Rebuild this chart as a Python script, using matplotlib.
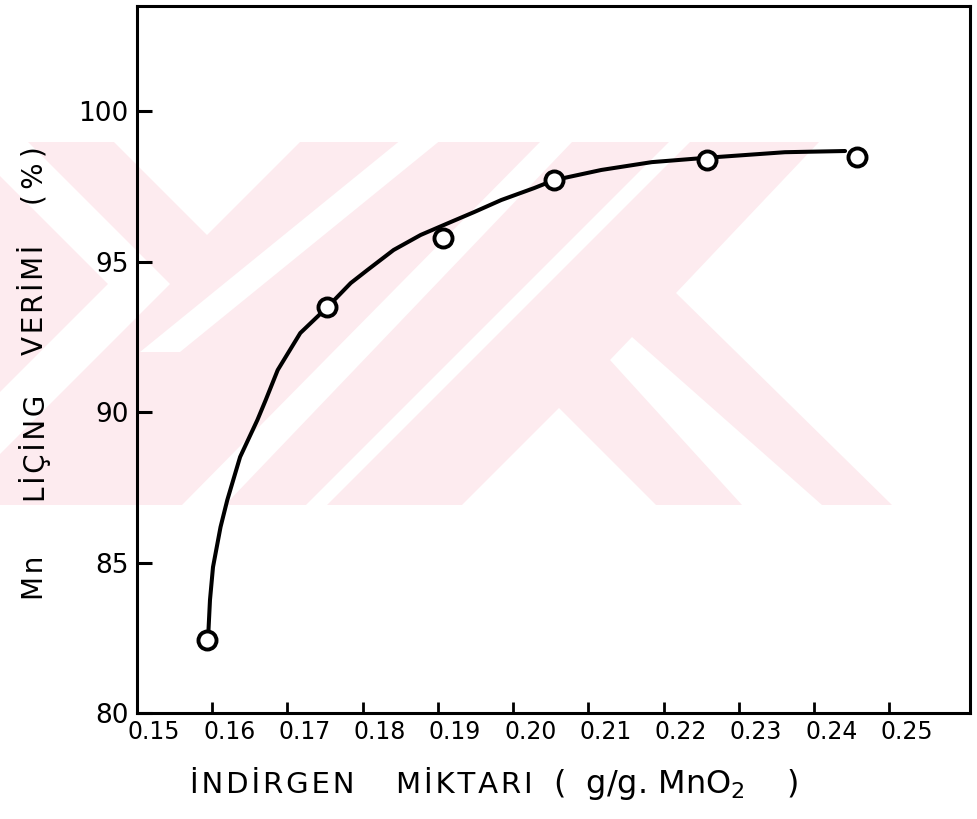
import matplotlib
matplotlib.use('Agg')
import matplotlib.pyplot as plt
from matplotlib.patches import Polygon, Rectangle
from matplotlib.transforms import ScaledTranslation

# ---- data ----
point_x = [0.1593, 0.1753, 0.1906, 0.2054, 0.2257, 0.2457]
point_y = [82.43, 93.49, 95.79, 97.71, 98.38, 98.48]

curve_x = [0.1593, 0.1595, 0.1597, 0.1601, 0.1611, 0.1620, 0.1637, 0.1660,
           0.1671, 0.1687, 0.1717, 0.1753, 0.1784, 0.1806, 0.1841, 0.1877,
           0.1917, 0.1948, 0.1984, 0.2028, 0.2054, 0.2117, 0.2184, 0.2254,
           0.2361, 0.2441]
curve_y = [82.43, 82.76, 83.76, 84.85, 86.18, 87.08, 88.51, 89.74,
           90.40, 91.40, 92.63, 93.49, 94.29, 94.72, 95.39, 95.89,
           96.32, 96.65, 97.05, 97.45, 97.71, 98.05, 98.31, 98.45,
           98.64, 98.68]

x_ticks = [0.15, 0.16, 0.17, 0.18, 0.19, 0.20, 0.21, 0.22, 0.23, 0.24, 0.25]
x_tick_labels = ['0.15', '0.16', '0.17', '0.18', '0.19', '0.20',
                 '0.21', '0.22', '0.23', '0.24', '0.25']
y_ticks = [80, 85, 90, 95, 100]
y_tick_labels = ['80', '85', '90', '95', '100']

x_label_words = ['İNDİRGEN', 'MİKTARI', '(  g/g. MnO$_2$    )']
y_label_words = ['Mn', 'LİÇİNG', 'VERİMİ', '(%)']

# ---- figure ----
W, H = 978, 819
fig = plt.figure(figsize=(W / 100, H / 100), dpi=100)
fig.patch.set_facecolor('white')


def fp(pts):
    return [(x / W, 1 - y / H) for x, y in pts]


# faint watermark in the background
pink = '#fdebef'
clip = Rectangle((0, 1 - 505 / H), 892 / W, (505 - 142) / H,
                 transform=fig.transFigure)
base = Polygon(fp([(0, 142), (892, 142), (892, 505), (0, 505)]), closed=True,
               transform=fig.transFigure, facecolor=pink, edgecolor='none',
               zorder=-10)
fig.add_artist(base)
whites = [
    [(-200, -86), (170, 284), (-200, 654), (-200, 592), (108, 284), (-200, -24)],
    [(14, 42), (207, 235), (400, 42)],
    [(140, 352), (180, 352), (490, 100), (450, 100)],
    [(540, 142), (572, 142), (225, 505), (182, 505)],
    [(669, 142), (690, 142), (327, 505), (306, 505)],
    [(462, 505), (559, 408), (656, 505)],
    [(819, 142), (676, 293), (892, 505), (1000, 505), (1000, 142)],
    [(610, 360), (632, 337), (822, 505), (742, 505)],
]
for w in whites:
    p = Polygon(fp(w), closed=True, transform=fig.transFigure,
                facecolor='white', edgecolor='none', zorder=-9)
    p.set_clip_path(clip)
    fig.add_artist(p)

ax = fig.add_axes([137 / W, 1 - 713 / H, (970 - 137) / W, (713 - 6) / H])
ax.set_facecolor('none')

ax.plot(curve_x, curve_y, color='black', lw=2.9, solid_capstyle='round',
        solid_joinstyle='round', zorder=2)
ax.plot(point_x, point_y, linestyle='none', marker='o', markersize=13,
        markerfacecolor='white', markeredgecolor='black', markeredgewidth=2.8,
        zorder=3)

ax.set_xlim(0.15, 0.2607)
ax.set_ylim(80, 103.5)

ax.set_xticks(x_ticks)
ax.set_xticklabels(x_tick_labels)
ax.set_yticks(y_ticks)
ax.set_yticklabels(y_tick_labels)

for s in ax.spines.values():
    s.set_linewidth(2.2)
    s.set_color('black')

ax.tick_params(axis='y', direction='in', length=11, width=2.2, pad=6,
               labelsize=19)
ax.tick_params(axis='x', direction='in', length=8, width=2.0, pad=5,
               labelsize=17)

offset = ScaledTranslation(17 / 100, 0, fig.dpi_scale_trans)
for lbl in ax.get_xticklabels():
    lbl.set_transform(lbl.get_transform() + offset)

HAIR = '\u200a'
THIN = '\u2009'

# x label: words placed along the bottom (left edges)
x_lefts = [190, 396, 553]
x_sizes = [21, 21, 23]
for word, lx, fs in zip(x_label_words, x_lefts, x_sizes):
    txt = word if '$' in word else HAIR.join(word)
    fig.text(lx / W, 1 - 793 / H, txt, ha='left', va='baseline',
             fontsize=fs)

# y label: rotated words along the left side
y_centres = [578, 448, 300, 176]
y_seps = [HAIR, HAIR, HAIR, THIN]
for word, cy, sep in zip(y_label_words, y_centres, y_seps):
    fig.text(35 / W, 1 - cy / H, sep.join(word), rotation=90, ha='center',
             va='center', fontsize=20)

fig.savefig('out.png', dpi=100, facecolor='white')
